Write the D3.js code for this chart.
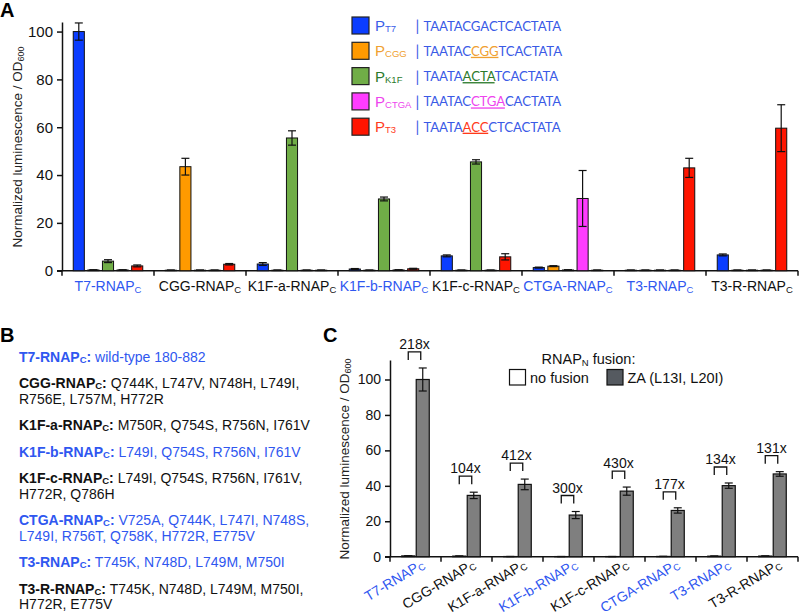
<!DOCTYPE html>
<html><head><meta charset="utf-8">
<script src="https://cdn.jsdelivr.net/npm/d3@7"></script>
<style>
body{margin:0;background:#fff;}
svg{display:block;font-family:"Liberation Sans",Arial,sans-serif;}
</style></head>
<body><svg id="c" width="800" height="616"></svg>
<script>
// ---------- DATA ----------
const variants = ["T7","CGG","K1F-a","K1F-b","K1F-c","CTGA","T3","T3-R"];
const blueVariants = ["T7","K1F-b","CTGA","T3"];
const promoters = ["T7","CGG","K1F","CTGA","T3"];
// panel A values: rows = variants, columns = promoters
const valuesA = [
  [100, 0.3, 4.0, 0.3, 2.0],
  [0.2, 43.5, 0.2, 0.2, 2.7],
  [2.8, 0.2, 55.5, 0.2, 0.2],
  [0.7, 0.2, 30.0, 0.3, 0.8],
  [6.2, 0.2, 45.5, 0.2, 5.8],
  [1.3, 1.9, 0.3, 30.2, 0.2],
  [0.2, 0.2, 0.2, 0.2, 43.0],
  [6.6, 0.2, 0.2, 0.2, 59.6]
];
const errorsA = [
  [3.6, 0.1, 0.6, 0.1, 0.4],
  [0.1, 3.5, 0.1, 0.1, 0.3],
  [0.6, 0.1, 3.0, 0.1, 0.1],
  [0.2, 0.1, 0.8, 0.1, 0.2],
  [0.4, 0.1, 0.9, 0.1, 1.3],
  [0.2, 0.2, 0.1, 11.7, 0.1],
  [0.1, 0.1, 0.1, 0.1, 4.0],
  [0.4, 0.1, 0.1, 0.1, 9.8]
];
const ticksA = [0, 20, 40, 60, 80, 100];
const sequences = [
  [["TAATACGACTCACTATA", false]],
  [["TAATAC", false], ["CGG", true], ["TCACTATA", false]],
  [["TAATA", false], ["ACTA", true], ["TCACTATA", false]],
  [["TAATAC", false], ["CTGA", true], ["CACTATA", false]],
  [["TAATA", false], ["ACC", true], ["CTCACTATA", false]]
];
const mutations = [
  ["wild-type 180-882"],
  ["Q744K, L747V, N748H, L749I,", "R756E, L757M, H772R"],
  ["M750R, Q754S, R756N, I761V"],
  ["L749I, Q754S, R756N, I761V"],
  ["L749I, Q754S, R756N, I761V,", "H772R, Q786H"],
  ["V725A, Q744K, L747I, N748S,", "L749I, R756T, Q758K, H772R, E775V"],
  ["T745K, N748D, L749M, M750I"],
  ["T745K, N748D, L749M, M750I,", "H772R, E775V"]
];
const fusions = ["no fusion", "ZA (L13I, L20I)"];
const noFusion = [0.46, 0.33, 0.10, 0.08, 0.09, 0.15, 0.30, 0.36];
const zaFusion = [100, 34.6, 40.8, 23.5, 37.0, 26.1, 40.1, 46.7];
const zaErr = [6.5, 1.8, 3.0, 2.0, 2.3, 1.5, 1.5, 1.3];
const noFusionErr = [0.1, 0.1, 0.05, 0.05, 0.05, 0.05, 0.1, 0.1];
const foldLabels = ["218x","104x","412x","300x","430x","177x","134x","131x"];
const ticksC = [0, 20, 40, 60, 80, 100];

// ---------- STYLE ----------
const barColor = {T7:"#0b3dff", CGG:"#ff9a00", K1F:"#70ad47", CTGA:"#ff3cff", T3:"#ff1500"};
const promColor = {T7:"#3a5de8", CGG:"#f0a030", K1F:"#2b7a2b", CTGA:"#ee44ee", T3:"#ff3a1a"};
const seqBlue = "#3a5ae6";
const labelBlue = "#2f57f0";
const fusionFill = {"no fusion":"#ffffff", "ZA (L13I, L20I)":"#7f7f7f"};
const fusionSwatch = {"no fusion":"#ffffff", "ZA (L13I, L20I)":"#555a60"};

const svg = d3.select("#c");

function subLabel(sel, main, sub, size, subSize){
  sel.append("tspan").text(main);
  sel.append("tspan").attr("font-size", subSize).attr("dy", 1.5).text(sub);
}

// ---------- PANEL A ----------
const xA = d3.scaleBand().domain(variants).range([62, 798]);
const xAin = d3.scaleBand().domain(promoters).range([0, xA.bandwidth()]).paddingInner(0.24).paddingOuter(0.77);
const yA = d3.scaleLinear().domain([0, 104]).range([270.7, 22]);

const gA = svg.append("g");
gA.append("text").attr("x", 0).attr("y", 17).attr("font-size", 20).attr("font-weight", "bold").text("A");

const yAxA = gA.append("g").attr("transform", "translate(62,0)")
  .call(d3.axisLeft(yA).tickValues(ticksA).tickSize(5).tickSizeOuter(0).tickPadding(4));
yAxA.selectAll("text").attr("font-size", 15).attr("font-family", "Liberation Sans, Arial").attr("fill", "#111");
yAxA.selectAll("path,line").attr("stroke", "#111").attr("stroke-width", 1.5);

const ylA = gA.append("text").attr("transform", "translate(22,147) rotate(-90)")
  .attr("text-anchor", "middle").attr("font-size", 13.5).attr("fill", "#222");
ylA.append("tspan").text("Normalized luminescence / OD");
ylA.append("tspan").attr("font-size", 9).attr("dy", 2).text("600");

gA.append("line").attr("x1", 57).attr("x2", 798).attr("y1", yA(0)).attr("y2", yA(0)).attr("stroke", "#111").attr("stroke-width", 1.5);
gA.selectAll(".sepA").data(variants.concat(["__end"])).join("line")
  .attr("x1", (d, i) => i < variants.length ? xA(d) : xA.range()[1])
  .attr("x2", (d, i) => i < variants.length ? xA(d) : xA.range()[1])
  .attr("y1", yA(0)).attr("y2", yA(0) + 5).attr("stroke", "#111").attr("stroke-width", 1.5);

variants.forEach((v, i) => {
  const g = gA.append("g").attr("transform", `translate(${xA(v)},0)`);
  promoters.forEach((p, j) => {
    const val = valuesA[i][j], e = errorsA[i][j];
    const x = xAin(p), w = xAin.bandwidth();
    g.append("rect").attr("x", x).attr("width", w).attr("y", yA(val)).attr("height", yA(0) - yA(val))
      .attr("fill", barColor[p]).attr("stroke", "#111").attr("stroke-width", 1);
    const cx = x + w / 2;
    g.append("line").attr("x1", cx).attr("x2", cx).attr("y1", yA(val + e)).attr("y2", yA(Math.max(0, val - e))).attr("stroke", "#111").attr("stroke-width", 1.2);
    [val + e, Math.max(0, val - e)].forEach(t => g.append("line").attr("x1", cx - 4).attr("x2", cx + 4).attr("y1", yA(t)).attr("y2", yA(t)).attr("stroke", "#111").attr("stroke-width", 1.2));
  });
  const t = gA.append("text").attr("x", xA(v) + xA.bandwidth() / 2).attr("y", 291).attr("text-anchor", "middle")
    .attr("font-size", 14).attr("fill", blueVariants.includes(v) ? labelBlue : "#111");
  subLabel(t, v + "-RNAP", "C", 14, 9.5);
});

// legend A
promoters.forEach((p, i) => {
  const cy = 25.5 + i * 25.3;
  gA.append("rect").attr("x", 352).attr("y", cy - 8.5).attr("width", 17).attr("height", 17)
    .attr("fill", barColor[p]).attr("stroke", "#222").attr("stroke-width", 1.2);
  const lt = gA.append("text").attr("x", 375).attr("y", cy + 5.5).attr("font-size", 15).attr("fill", promColor[p]);
  lt.append("tspan").text("P");
  lt.append("tspan").attr("font-size", 9.5).attr("dy", 1).text(p);
  gA.append("text").attr("x", 415.5).attr("y", cy + 5.5).attr("font-size", 15).attr("font-family", "Lato, sans-serif").attr("fill", seqBlue).text("|");
  const st = gA.append("text").attr("x", 423.5).attr("y", cy + 5).attr("font-size", 13.2).attr("letter-spacing", -0.1)
    .attr("font-family", "Lato, sans-serif").attr("fill", seqBlue);
  sequences[i].forEach(([s, hl]) => {
    const ts = st.append("tspan").text(s);
    if (hl) ts.attr("fill", promColor[p]).attr("text-decoration", "underline");
  });
});

// ---------- PANEL B ----------
const gB = svg.append("g");
gB.append("text").attr("x", 0).attr("y", 342).attr("font-size", 20).attr("font-weight", "bold").text("B");
let yLine = 361.5;
variants.forEach((v, i) => {
  const col = blueVariants.includes(v) ? labelBlue : "#111";
  mutations[i].forEach((m, k) => {
    const t = gB.append("text").attr("x", 19).attr("y", yLine).attr("font-size", 14).attr("fill", col);
    if (k === 0) {
      t.append("tspan").attr("font-weight", "bold").text(v + "-RNAP");
      t.append("tspan").attr("font-weight", "bold").attr("font-size", 9.5).attr("dy", 1).text("C");
      t.append("tspan").attr("font-weight", "bold").attr("dy", -1).text(":");
      t.append("tspan").text(" " + m);
    } else {
      t.text(m);
    }
    yLine += (k < mutations[i].length - 1) ? 15.5 : 26.5;
  });
});

// ---------- PANEL C ----------
const gC = svg.append("g");
gC.append("text").attr("x", 323).attr("y", 342).attr("font-size", 20).attr("font-weight", "bold").text("C");
const xC = d3.scaleBand().domain(variants).range([390, 798]);
const xCin = d3.scaleBand().domain(fusions).range([0, xC.bandwidth()]).paddingInner(0.1).paddingOuter(0.81);
const yC = d3.scaleLinear().domain([0, 111]).range([556.7, 360]);

const yAxC = gC.append("g").attr("transform", "translate(390,0)")
  .call(d3.axisLeft(yC).tickValues(ticksC).tickSize(5).tickSizeOuter(0).tickPadding(4));
yAxC.selectAll("text").attr("font-size", 14).attr("font-family", "Liberation Sans, Arial").attr("fill", "#111");
yAxC.selectAll("path,line").attr("stroke", "#111").attr("stroke-width", 1.5);

const ylC = gC.append("text").attr("transform", "translate(349,459) rotate(-90)")
  .attr("text-anchor", "middle").attr("font-size", 13.5).attr("fill", "#222");
ylC.append("tspan").text("Normalized luminescence / OD");
ylC.append("tspan").attr("font-size", 9).attr("dy", 2).text("600");

gC.append("line").attr("x1", 385).attr("x2", 798).attr("y1", yC(0)).attr("y2", yC(0)).attr("stroke", "#111").attr("stroke-width", 1.5);
gC.selectAll(".sepC").data(variants.concat(["__end"])).join("line")
  .attr("x1", (d, i) => i < variants.length ? xC(d) : xC.range()[1])
  .attr("x2", (d, i) => i < variants.length ? xC(d) : xC.range()[1])
  .attr("y1", yC(0)).attr("y2", yC(0) + 5).attr("stroke", "#111").attr("stroke-width", 1.5);

variants.forEach((v, i) => {
  const g = gC.append("g").attr("transform", `translate(${xC(v)},0)`);
  const vals = [noFusion[i], zaFusion[i]], errs = [noFusionErr[i], zaErr[i]];
  fusions.forEach((f, j) => {
    const x = xCin(f), w = xCin.bandwidth(), val = vals[j], e = errs[j];
    g.append("rect").attr("x", x).attr("width", w).attr("y", yC(val)).attr("height", yC(0) - yC(val))
      .attr("fill", fusionFill[f]).attr("stroke", "#111").attr("stroke-width", 1.2);
    const cx = x + w / 2;
    g.append("line").attr("x1", cx).attr("x2", cx).attr("y1", yC(val + e)).attr("y2", yC(Math.max(0, val - e))).attr("stroke", "#111").attr("stroke-width", 1.2);
    [val + e, Math.max(0, val - e)].forEach(t => g.append("line").attr("x1", cx - 4).attr("x2", cx + 4).attr("y1", yC(t)).attr("y2", yC(t)).attr("stroke", "#111").attr("stroke-width", 1.2));
  });
  const bx1 = xCin(fusions[0]) + xCin.bandwidth() / 2;
  const bx2 = xCin(fusions[1]) + xCin.bandwidth() / 2 - 2;
  const by = yC(zaFusion[i] + zaErr[i]) - 16;
  g.append("path").attr("d", `M${bx1},${by + 8}V${by}H${bx2}V${by + 8}`).attr("fill", "none").attr("stroke", "#111").attr("stroke-width", 1.3);
  g.append("text").attr("x", (bx1 + bx2) / 2).attr("y", by - 3).attr("text-anchor", "middle").attr("font-size", 14).attr("fill", "#111").text(foldLabels[i]);
  const cxg = xC(v) + xC.bandwidth() / 2;
  const t = gC.append("text").attr("transform", `translate(${cxg + 10},${567}) rotate(-31)`).attr("text-anchor", "end")
    .attr("font-size", 14).attr("fill", blueVariants.includes(v) ? labelBlue : "#111");
  subLabel(t, v + "-RNAP", "C", 14, 9.5);
});

// legend C
const lt = gC.append("text").attr("x", 588.5).attr("y", 364).attr("text-anchor", "middle").attr("font-size", 14.5).attr("fill", "#111");
lt.append("tspan").text("RNAP");
lt.append("tspan").attr("font-size", 9.5).attr("dy", 2).text("N");
lt.append("tspan").attr("dy", -2).text(" fusion:");
const legX = {"no fusion": 509.5, "ZA (L13I, L20I)": 607};
fusions.forEach(f => {
  gC.append("rect").attr("x", legX[f]).attr("y", 369.5).attr("width", 16).attr("height", 15.5)
    .attr("fill", fusionSwatch[f]).attr("stroke", "#111").attr("stroke-width", 1.2);
  gC.append("text").attr("x", legX[f] + 20.5).attr("y", 382.5).attr("font-size", 14.5).attr("fill", "#111").text(f);
});
</script></body></html>
